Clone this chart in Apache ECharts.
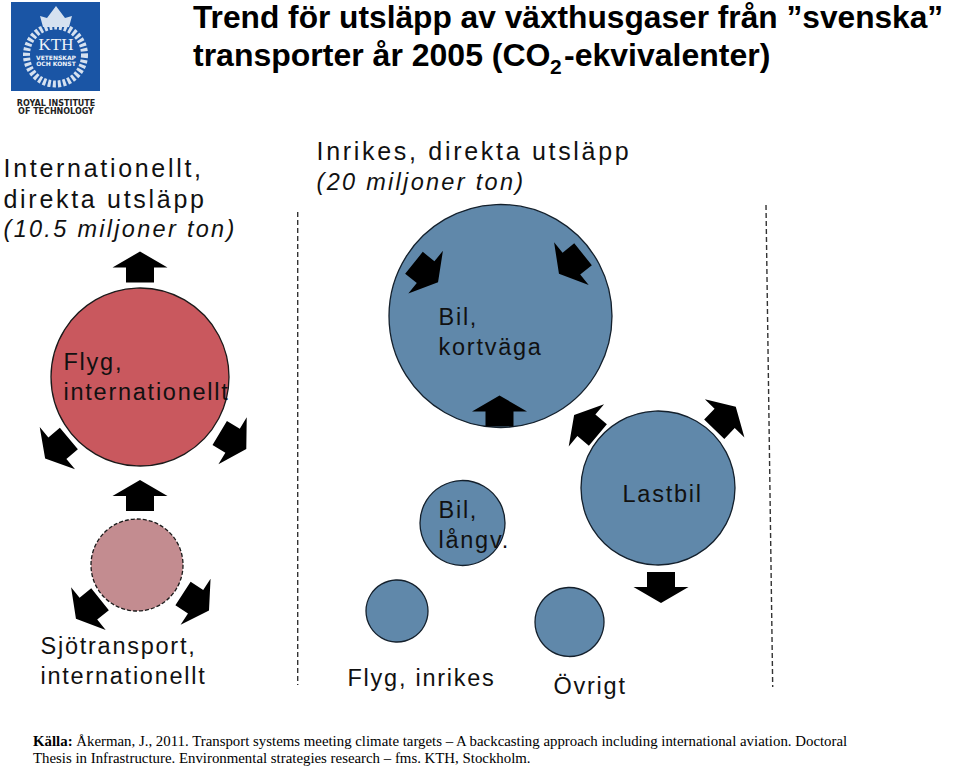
<!DOCTYPE html>
<html>
<head>
<meta charset="utf-8">
<title>Trend för utsläpp av växthusgaser</title>
<script src="https://cdn.jsdelivr.net/npm/echarts@6/dist/echarts.min.js"></script>
<style>
  html, body { margin: 0; padding: 0; background: #fff; }
  #chart { width: 960px; height: 768px; }
  /* zrender has no letter spacing, the svg renderer lets css do it */
  #chart svg text[style*="Liberation Sans"] { letter-spacing: 1.75px; }
  #chart svg text[style*="25px"] { letter-spacing: 2.7px; }
  #chart svg text[style*="italic"] { letter-spacing: 2.3px; }
</style>
</head>
<body>
<div id="chart"></div>
<script>
var titleLine1 = 'Trend för utsläpp av växthusgaser från ”svenska”';
var titleLine2 = ['transporter år 2005 (CO', '2', '-ekvivalenter)'];
var sourceLine1 = 'Åkerman, J., 2011. Transport systems meeting climate targets – A backcasting approach including international aviation. Doctoral';
var sourceLine2 = 'Thesis in Infrastructure. Environmental strategies research – fms. KTH, Stockholm.';

// bubbles: centre and diameter
var bubbleNames = ['Flyg, internationellt', 'Sjötransport, internationellt', 'Bil, kortväga', 'Bil, långv.', 'Lastbil', 'Flyg, inrikes', 'Övrigt'];
var bubbleGroup = ['flyg', 'sjo', 'inrikes', 'inrikes', 'inrikes', 'inrikes', 'inrikes'];
var bubbleX = [140, 137, 500.5, 462.5, 658, 397, 569.5];
var bubbleY = [377, 565, 316, 523, 488, 611, 622];
var bubbleD = [178, 92, 223, 85, 154, 62, 69];

// trend arrows, angle is clockwise from straight up
var arrowX = [140, 57, 233, 140, 88, 196, 499.5, 426, 571, 661, 586, 725];
var arrowY = [267, 448.5, 441, 495.5, 609, 602, 411, 272.5, 264, 587.5, 425, 418];
var arrowAngle = [0, -130, 121, 0, -129, 123, 0, 129, -129, 180, -50, 44];

var dividerLeftX = [297.7, 297.7];
var dividerLeftY = [212, 685];
var dividerRightX = [766, 772.7];
var dividerRightY = [205, 687];

var headerTexts = ['Internationellt,', 'direkta utsläpp', 'Inrikes, direkta utsläpp'];
var headerX = [3, 3, 316];
var headerY = [168, 199, 151];
var labelTexts = ['Flyg,', 'internationellt', 'Bil,', 'kortväga', 'Bil,', 'långv.', 'Lastbil', 'Sjötransport,', 'internationellt', 'Flyg, inrikes', 'Övrigt'];
var labelX = [63, 63, 438, 438, 438, 438, 622, 40, 40, 347, 553];
var labelY = [362, 392, 317, 347, 510, 540, 494, 646, 676, 678, 686];
var noteTexts = ['(10.5 miljoner ton)', '(20 miljoner ton)'];
var noteX = [3, 316];
var noteY = [229, 182];

var arrowPath = 'path://M27.5 0 L55 16 L41.5 16 L41.5 31 L13.5 31 L13.5 16 L0 16 Z';
var groupStyles = {
  flyg: { color: '#c9585e', borderColor: '#1a1a1a', borderWidth: 1.3 },
  sjo: { color: '#c38c90', borderColor: '#1a1a1a', borderWidth: 1.3, borderType: [4, 2] },
  inrikes: { color: '#6088aa', borderColor: '#14202c', borderWidth: 1.3 }
};
var sansFont = '"Liberation Sans"';

function textPoints(texts, xs, ys) {
  return texts.map(function (t, i) {
    return { name: t, value: [xs[i], ys[i]] };
  });
}

function textSeries(points, size, italic) {
  return {
    type: 'scatter',
    z: 5,
    silent: true,
    symbolSize: 1,
    itemStyle: { color: 'transparent', opacity: 1 },
    label: {
      show: true,
      position: 'right',
      distance: 0,
      formatter: '{b}',
      color: '#111',
      fontSize: size,
      fontStyle: italic ? 'italic' : 'normal',
      fontFamily: sansFont
    },
    data: points
  };
}

var chart = echarts.init(document.getElementById('chart'), null, { renderer: 'svg' });

// wreath and crown of the logo, plain shapes
var logo = [
  { type: 'rect', shape: { x: 11, y: 2, width: 89, height: 89 }, style: { fill: '#1a55a5' } },
  { type: 'circle', shape: { cx: 55.5, cy: 55, r: 29 }, style: { fill: 'none', stroke: '#d5e1f0', lineWidth: 7, lineDash: [3, 2] } },
  { type: 'polygon', shape: { points: [[43, 27], [40, 16], [47, 18], [56, 6], [65, 18], [72, 16], [69, 27]] }, style: { fill: '#d5e1f0' } },
  { type: 'text', x: 56, y: 44, style: { text: 'KTH', fill: '#eef3fa', font: '17px "Liberation Serif"', textAlign: 'center', textVerticalAlign: 'middle' } },
  { type: 'text', x: 56, y: 57, style: { text: 'VETENSKAP', fill: '#eef3fa', font: 'bold 6px "DejaVu Sans"', textAlign: 'center', textVerticalAlign: 'middle' } },
  { type: 'text', x: 56, y: 63.5, style: { text: 'OCH KONST', fill: '#eef3fa', font: 'bold 6px "DejaVu Sans"', textAlign: 'center', textVerticalAlign: 'middle' } },
  { type: 'text', x: 56, y: 103, style: { text: 'ROYAL INSTITUTE', fill: '#222', font: 'bold 8px "DejaVu Sans"', textAlign: 'center', textVerticalAlign: 'middle' } },
  { type: 'text', x: 56, y: 111, style: { text: 'OF TECHNOLOGY', fill: '#222', font: 'bold 8px "DejaVu Sans"', textAlign: 'center', textVerticalAlign: 'middle' } }
];

var texts = [
  { type: 'text', x: 193, y: 17, style: { text: titleLine1, fill: '#000', font: 'bold 31.7px Arial', textVerticalAlign: 'middle' } },
  { type: 'text', x: 193, y: 55, style: { text: titleLine2[0], fill: '#000', font: 'bold 32px Arial', textVerticalAlign: 'middle' } },
  { type: 'text', x: 550, y: 66, style: { text: titleLine2[1], fill: '#000', font: 'bold 21px Arial', textVerticalAlign: 'middle' } },
  { type: 'text', x: 564, y: 55, style: { text: titleLine2[2], fill: '#000', font: 'bold 32px Arial', textVerticalAlign: 'middle' } },
  {
    type: 'text', x: 33, y: 741,
    style: {
      text: '{b|Källa:} ' + sourceLine1,
      fill: '#000',
      font: '14.85px "Liberation Serif"',
      textVerticalAlign: 'middle',
      rich: { b: { font: 'bold 14.85px "Liberation Serif"', fill: '#000' } }
    }
  },
  { type: 'text', x: 33, y: 758, style: { text: sourceLine2, fill: '#000', font: '14.85px "Liberation Serif"', textVerticalAlign: 'middle' } }
];

var option = {
  animation: false,
  tooltip: { show: false },
  grid: { left: 0, right: 0, top: 0, bottom: 0 },
  xAxis: { type: 'value', min: 0, max: 960, show: false },
  yAxis: { type: 'value', min: 0, max: 768, inverse: true, show: false },
  graphic: logo.concat(texts),
  series: [
    {
      type: 'line',
      silent: true,
      symbol: 'none',
      lineStyle: { color: '#333', width: 1.4, type: [5, 3] },
      data: dividerLeftX.map(function (x, i) { return [x, dividerLeftY[i]]; })
    },
    {
      type: 'line',
      silent: true,
      symbol: 'none',
      lineStyle: { color: '#333', width: 1.4, type: [5, 3] },
      data: dividerRightX.map(function (x, i) { return [x, dividerRightY[i]]; })
    },
    {
      type: 'scatter',
      z: 2,
      silent: true,
      data: bubbleNames.map(function (name, i) {
        return {
          name: name,
          value: [bubbleX[i], bubbleY[i]],
          symbolSize: bubbleD[i],
          itemStyle: Object.assign({ opacity: 1 }, groupStyles[bubbleGroup[i]])
        };
      })
    },
    {
      type: 'scatter',
      z: 3,
      silent: true,
      symbol: arrowPath,
      symbolSize: [55, 31],
      itemStyle: { color: '#000', opacity: 1 },
      data: arrowX.map(function (x, i) {
        // symbolRotate turns counterclockwise
        return { value: [x, arrowY[i]], symbolRotate: -arrowAngle[i] };
      })
    },
    textSeries(textPoints(headerTexts, headerX, headerY), 25, false),
    textSeries(textPoints(labelTexts, labelX, labelY), 23.5, false),
    textSeries(textPoints(noteTexts, noteX, noteY), 23.5, true)
  ]
};

chart.setOption(option);
</script>
</body>
</html>
